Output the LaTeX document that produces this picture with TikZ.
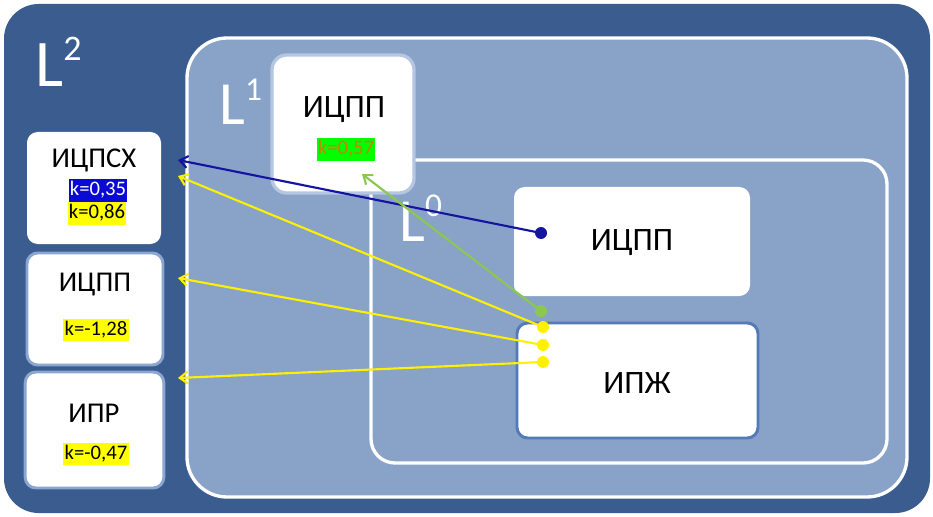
\documentclass[tikz,border=0pt]{standalone}
\usepackage{fontspec}
\setmainfont{Carlito}
\usetikzlibrary{arrows.meta}
\definecolor{darkbg}{RGB}{58,92,142}
\definecolor{lightbg}{RGB}{137,162,200}
\definecolor{paleborder}{RGB}{180,198,226}
\definecolor{midborder}{RGB}{84,122,184}
\definecolor{leftborder}{RGB}{140,166,210}
\definecolor{arrblue}{RGB}{20,20,160}
\definecolor{arryellow}{RGB}{255,240,0}
\definecolor{arrgreen}{RGB}{140,200,80}
\definecolor{hlblue}{RGB}{10,10,210}
\definecolor{hlyellow}{RGB}{255,255,0}
\definecolor{hlgreen}{RGB}{0,255,0}
\definecolor{orangetext}{RGB}{200,130,10}
\tikzset{
  box/.style={draw=none, fill=white, rounded corners=8pt, inner sep=0pt},
  boxtext/.style={font=\fontsize{21.5}{24}\selectfont, inner sep=0pt},
  bigboxtext/.style={font=\fontsize{24.5}{27}\selectfont, inner sep=0pt},
  ktext/.style={font=\fontsize{15.5}{17}\selectfont, inner sep=1pt, text height=11.5pt, text depth=3.5pt},
  levellabel/.style={text=white, inner sep=0pt, anchor=base west},
  link/.style={line width=1.6pt, -{Straight Barb[length=6pt,width=9pt]}},
  dotend/.style={circle, inner sep=0pt, minimum size=9pt}
}
\begin{document}
\begin{tikzpicture}[x=0.75pt,y=-0.75pt]
\useasboundingbox (0,0) rectangle (933,517);
% containers
\path[fill=darkbg, rounded corners=26pt] (4,4) rectangle (930,513);
\path[fill=lightbg, draw=white, line width=2.5pt, rounded corners=30pt] (187,38) rectangle (907,497);
\path[fill=lightbg, draw=white, line width=2.5pt, rounded corners=18pt] (371,160) rectangle (887,463);
% level labels
\node[levellabel, font=\fontsize{50}{50}\selectfont] (l2) at (35,87) {L\raisebox{0.4em}{\fontsize{27}{27}\selectfont 2}};
\node[levellabel, font=\fontsize{46}{46}\selectfont] (l1) at (219,125) {L\raisebox{0.4em}{\fontsize{25}{25}\selectfont 1}};
\node[levellabel, font=\fontsize{46}{46}\selectfont] (l0) at (399,241) {L\raisebox{0.4em}{\fontsize{25}{25}\selectfont 0}};
% boxes
\node[box, minimum width=100.5pt, minimum height=84pt] (bicpsx) at (94,188) {};
\node[box, draw=leftborder, line width=2.2pt, minimum width=102pt, minimum height=84pt] (bicppl) at (95,309) {};
\node[box, draw=leftborder, line width=2.2pt, minimum width=104pt, minimum height=87pt] (bipr) at (94.5,430) {};
\node[box, draw=paleborder, line width=2.5pt, rounded corners=11pt, minimum width=106.5pt, minimum height=103.5pt] (bicpp1) at (343,124) {};
\node[box, minimum width=177pt, minimum height=81.75pt] (bicpp0) at (632,241.5) {};
\node[box, draw=midborder, line width=2.2pt, minimum width=180.75pt, minimum height=86.25pt] (bipzh) at (637.5,380.5) {};
% texts
\node[boxtext] (ticpsx) at (94,160) {ИЦПСХ};
\node[ktext, fill=hlblue, text=white] (k1) at (98,190.5) {k=0,35};
\node[ktext, fill=hlyellow] (k2) at (97,213.5) {k=0,86};
\node[boxtext] (ticppl) at (95,285) {ИЦПП};
\node[ktext, fill=hlyellow] (k3) at (96,330) {k=-1,28};
\node[boxtext] (tipr) at (94,413) {ИПР};
\node[ktext, fill=hlyellow] (k4) at (96,454) {k=-0,47};
\node[bigboxtext] (ticpp1) at (344,110) {ИЦПП};
\node[ktext, fill=hlgreen, text=orangetext] (k5) at (346,149.5) {k=0,57};
\node[bigboxtext] (ticpp0) at (632,243) {ИЦПП};
\node[bigboxtext] (tipzh) at (637,383) {ИПЖ};
% connector end points
\coordinate (eb) at (178,160);
\coordinate (ey1) at (178,176);
\coordinate (ey2) at (178,278);
\coordinate (ey3) at (178,378);
\coordinate (eg) at (362,174);
\node[dotend, fill=arrblue] (db) at (541,233) {};
\node[dotend, fill=arrgreen] (dg) at (541,311) {};
\node[dotend, fill=arryellow] (dy1) at (543,327) {};
\node[dotend, fill=arryellow] (dy2) at (543,345) {};
\node[dotend, fill=arryellow] (dy3) at (543,362) {};
% connectors
\draw[link, draw=arrblue] (db.center) -- (eb);
\draw[link, draw=arrgreen] (dg.center) -- (eg);
\draw[link, draw=arryellow] (dy1.center) -- (ey1);
\draw[link, draw=arryellow] (dy2.center) -- (ey2);
\draw[link, draw=arryellow] (dy3.center) -- (ey3);
\end{tikzpicture}
\end{document}
